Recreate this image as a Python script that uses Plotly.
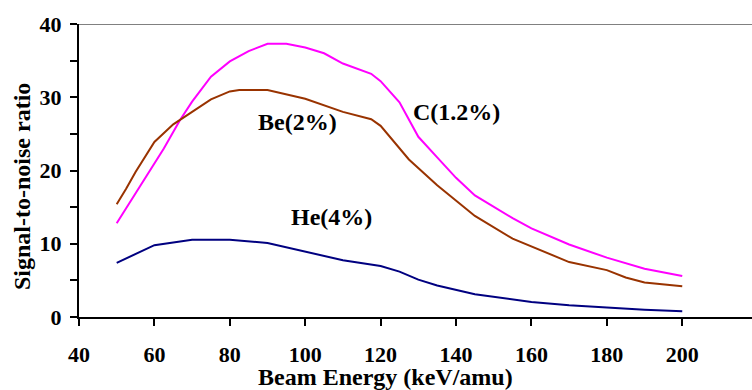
import plotly.graph_objects as go

# Signal-to-noise ratio versus beam energy for three impurity species
c_energy = [50, 62.5, 66.8, 70, 75, 80, 85, 90, 95, 100, 105, 110, 117.5, 120, 125,
            130, 135, 140, 145, 155, 160, 170, 180, 190, 200]
c_snr = [12.8, 23.0, 26.9, 29.4, 32.8, 34.9, 36.3, 37.3, 37.3, 36.8, 36.0, 34.6,
         33.2, 32.2, 29.3, 24.6, 21.8, 19.0, 16.6, 13.5, 12.1, 9.9, 8.1, 6.6, 5.6]

be_energy = [50, 52.5, 55, 60, 65, 75, 80, 82.5, 90, 100, 110, 117.5, 120, 127.5,
             135, 145, 155, 160, 170, 180, 185, 190, 200]
be_snr = [15.4, 17.5, 19.8, 23.9, 26.3, 29.7, 30.8, 31.0, 31.0, 29.8, 28.0, 27.0,
          26.1, 21.5, 18.0, 13.8, 10.7, 9.6, 7.5, 6.4, 5.4, 4.7, 4.2]

he_energy = [50, 60, 70, 80, 90, 100, 110, 120, 125, 130, 135, 145, 160, 170, 180,
             190, 200]
he_snr = [7.4, 9.8, 10.55, 10.55, 10.1, 8.95, 7.75, 6.95, 6.2, 5.1, 4.3, 3.1, 2.05,
          1.6, 1.28, 1.0, 0.8]

x_ticks = [40, 60, 80, 100, 120, 140, 160, 180, 200]
y_ticks = [0, 5, 10, 15, 20, 25, 30, 35, 40]
y_tick_text = ["0", "", "10", "", "20", "", "30", "", "40"]

FONT = "Liberation Serif"

fig = go.Figure()
fig.add_trace(go.Scatter(x=c_energy, y=c_snr, mode="lines",
                         line=dict(color="#FF00FF", width=2), name="C(1.2%)"))
fig.add_trace(go.Scatter(x=be_energy, y=be_snr, mode="lines",
                         line=dict(color="#993300", width=2), name="Be(2%)"))
fig.add_trace(go.Scatter(x=he_energy, y=he_snr, mode="lines",
                         line=dict(color="#000080", width=2), name="He(4%)"))

# Gridline-style top border of the plot area
fig.add_shape(type="line", xref="paper", yref="y", x0=0, x1=1, y0=40, y1=40,
              line=dict(color="#808080", width=2))

bold = dict(family=FONT, size=24, color="black", weight="bold")
labels = [("C(1.2%)", 140, 28.0), ("Be(2%)", 98, 26.6), ("He(4%)", 107, 13.6)]
for text, x, y in labels:
    fig.add_annotation(x=x, y=y, xref="x", yref="y", text=text,
                       showarrow=False, font=bold)

fig.add_annotation(x=0.456, y=-0.205, xref="paper", yref="paper",
                   text="Beam Energy (keV/amu)", showarrow=False,
                   font=bold, xanchor="center", yanchor="middle")
fig.add_annotation(x=-0.0847, y=0.447, xref="paper", yref="paper",
                   text="Signal-to-noise ratio", showarrow=False,
                   font=bold, textangle=-90, xanchor="center", yanchor="middle")

tick_font = dict(family=FONT, size=22, color="black", weight="bold")

fig.update_layout(
    width=752, height=390,
    margin=dict(l=79, r=0, t=24, b=73),
    paper_bgcolor="white", plot_bgcolor="white",
    showlegend=False,
    font=dict(family=FONT, color="black"),
)
fig.update_xaxes(
    range=[40, 218.5], tickvals=x_ticks, ticktext=[str(v) for v in x_ticks],
    ticks="outside", ticklen=7, tickwidth=2, tickcolor="black",
    showline=True, linecolor="black", linewidth=2, showgrid=False, zeroline=False,
    tickfont=tick_font, ticklabelstandoff=10,
)
fig.update_yaxes(
    range=[0, 40], tickvals=y_ticks, ticktext=y_tick_text,
    ticks="outside", ticklen=7, tickwidth=2, tickcolor="black",
    showline=True, linecolor="black", linewidth=2, showgrid=False, zeroline=False,
    tickfont=tick_font, ticklabelstandoff=4,
)

fig.write_html("out.html")
